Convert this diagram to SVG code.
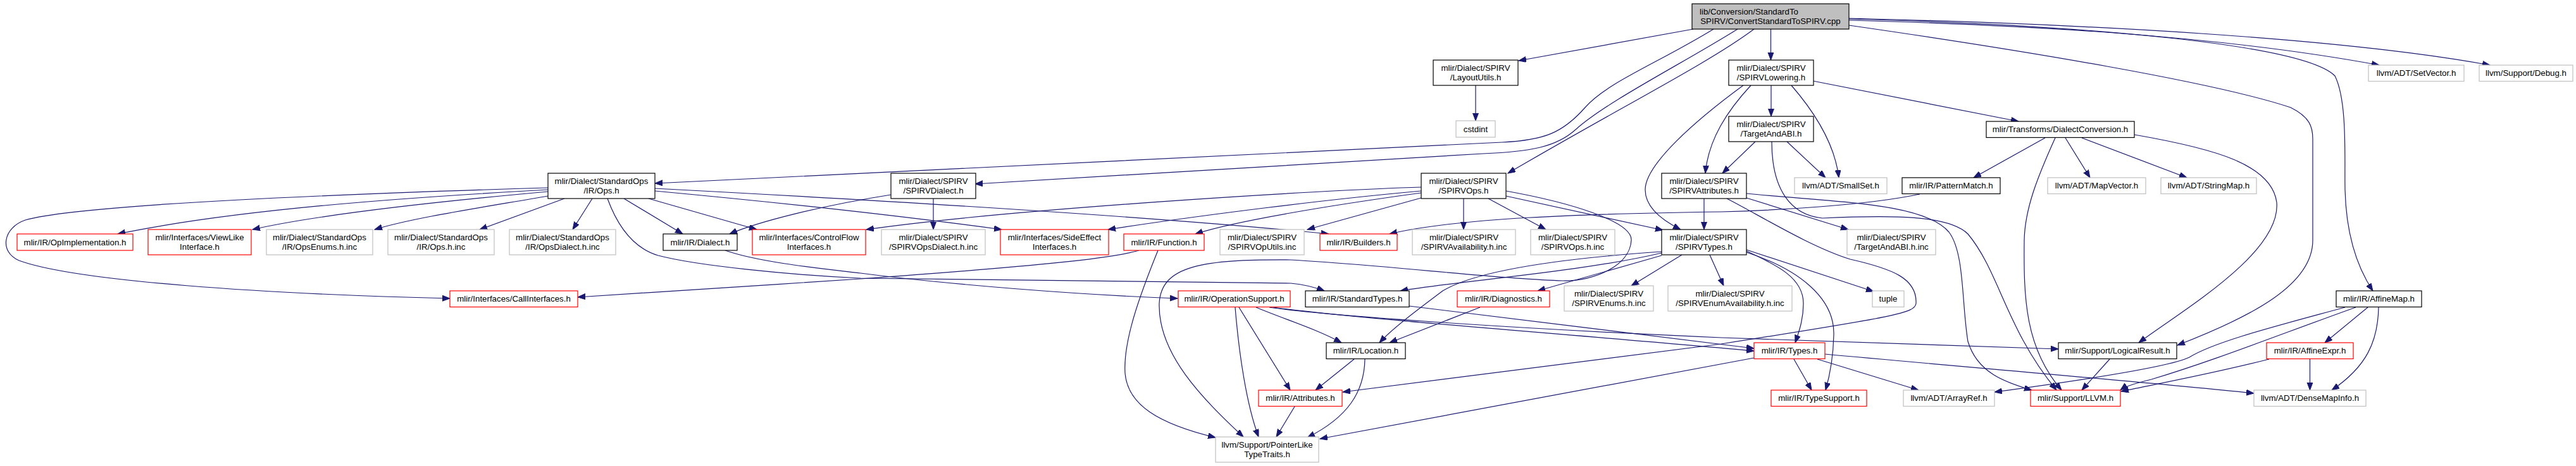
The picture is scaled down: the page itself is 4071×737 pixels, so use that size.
<svg xmlns="http://www.w3.org/2000/svg" width="4071" height="737" viewBox="0 0 4071 737">
<style>
.node rect{fill:#ffffff;stroke:#000000;stroke-width:1.2}
.node.m rect{fill:#bfbfbf}
.node.g rect{stroke:#bfbfbf}
.node.r rect{stroke:#ff0000}
.node text{font-family:"Liberation Sans",Arial,Helvetica,sans-serif;font-size:13.3px;fill:#000000;text-anchor:middle}
#edges path{fill:none;stroke:#191970;stroke-width:1.2;marker-end:url(#a)}
</style>
<defs>
<marker id="a" markerWidth="14" markerHeight="10" refX="12" refY="4.5" orient="auto" markerUnits="userSpaceOnUse"><path d="M0,0 L12,4.5 L0,9 z" fill="#191970" stroke="#191970" stroke-width="1"/></marker>
</defs>
<rect width="4071" height="737" fill="#ffffff"/>
<g id="edges">
<path d="M2676,46 L2400,96"/>
<path d="M2798.5,46 L2798.5,95"/>
<path d="M2708,46 C2620,100 2540,130 2505,170 C2470,210 2440,222 2374,225 L1035,290"/>
<path d="M2746,46 C2660,100 2540,160 2490,205 C2460,232 2420,240 2344,243 L1541,291"/>
<path d="M2772,46 C2700,100 2560,170 2383,274"/>
<path d="M2922,32 C3200,40 3500,55 3760,103"/>
<path d="M2922,29 C3300,38 3700,60 3935,103"/>
<path d="M2922,30 C3300,40 3640,70 3690,120 C3710,160 3705,250 3706,300 C3708,380 3730,430 3750,460"/>
<path d="M2922,40 C3200,80 3500,130 3620,170 C3650,185 3655,200 3655,220 L3655,380 C3655,450 3560,500 3441,546"/>
<path d="M2332,135 L2332,191"/>
<path d="M2799,135 L2799,184"/>
<path d="M2865,128 L3190,192"/>
<path d="M2831,135 C2870,180 2900,230 2906,281"/>
<path d="M2767,135 C2730,175 2700,220 2695,274"/>
<path d="M2755,135 C2680,190 2600,260 2600,300 C2600,330 2630,350 2656,363"/>
<path d="M2824,224 L2885,281"/>
<path d="M2774,224 L2722,274"/>
<path d="M2800,224 C2800,300 2830,340 2880,345 C2990,340 3080,340 3110,370 C3160,430 3170,520 3250,617"/>
<path d="M3232,218 L3119,281"/>
<path d="M3264,218 L3303,281"/>
<path d="M3290,218 L3456,281"/>
<path d="M3248,218 C3220,280 3200,330 3199,380 C3198,470 3200,550 3258,617"/>
<path d="M3373,213 C3500,235 3590,260 3598,320 C3605,400 3450,490 3380,542"/>
<path d="M3034,307 C2950,325 2800,333 2720,335 C2500,338 2300,345 2196,370"/>
<path d="M866,300 C650,312 380,330 186,370"/>
<path d="M866,297 C500,308 120,325 40,348 C5,360 -2,398 30,412 C120,445 420,465 711,472"/>
<path d="M866,303 C700,318 500,340 399,363"/>
<path d="M866,310 C750,330 650,345 592,363"/>
<path d="M892,314 L758,363"/>
<path d="M936,314 L905,363"/>
<path d="M986,314 L1079,370"/>
<path d="M1025,314 L1196,363"/>
<path d="M1035,298 C1300,312 1800,340 2100,370"/>
<path d="M1035,302 C1250,322 1450,345 1583,363"/>
<path d="M960,314 C975,355 1000,392 1040,404 C1100,420 1250,435 1360,440 L2040,448 C2060,450 2080,455 2093,460"/>
<path d="M1408,308 C1300,325 1200,350 1153,370"/>
<path d="M1475,314 L1475,363"/>
<path d="M2246,296 C2100,300 1600,330 1369,363"/>
<path d="M2246,302 C2100,315 1900,340 1751,363"/>
<path d="M2246,305 C2100,325 1950,350 1889,370"/>
<path d="M2246,313 L2066,363"/>
<path d="M2313,314 L2313,363"/>
<path d="M2352,314 L2443,363"/>
<path d="M2380,310 L2628,364"/>
<path d="M2380,302 C2480,320 2580,350 2578,380 C2576,420 2520,445 2470,444 C2350,440 2200,420 2040,411 C1900,410 1835,420 1832,480 C1830,560 1900,630 1965,691"/>
<path d="M2693,314 L2693,363"/>
<path d="M2760,313 L2921,363"/>
<path d="M2760,306 C2900,320 3040,320 3080,367 C3105,400 3100,480 3110,540 C3125,590 3170,605 3211,617"/>
<path d="M2729,314 C2780,340 2860,390 2924,410 C2990,425 3030,440 3028,480 C3026,495 3000,500 2720,544 L2122,620"/>
<path d="M2658,403 L2578,452"/>
<path d="M2702,403 L2724,452"/>
<path d="M2760,395 L2961,461"/>
<path d="M2760,397 C2810,420 2850,440 2850,480 C2850,505 2843,525 2837,542"/>
<path d="M2760,399 C2840,425 2900,470 2898,530 C2897,570 2890,600 2885,617"/>
<path d="M2626,400 C2500,430 2300,445 2213,460"/>
<path d="M2626,404 L2430,460"/>
<path d="M2626,398 C2450,410 2330,430 2280,460 C2240,490 2200,520 2180,542"/>
<path d="M1146,396 C1200,415 1300,425 1360,432 C1500,450 1700,466 1861,472"/>
<path d="M1800,396 C1760,408 1650,420 1360,441 C1200,452 1000,463 913,470"/>
<path d="M1830,396 C1800,470 1775,540 1778,590 C1782,640 1830,670 1921,692"/>
<path d="M1952,486 C1958,560 1970,640 1989,691"/>
<path d="M1958,486 L2039,617"/>
<path d="M1985,486 C2030,505 2080,520 2120,542"/>
<path d="M2006,486 C2100,500 2400,520 2720,534 L3253,552"/>
<path d="M2012,486 C2150,505 2500,530 2772,555"/>
<path d="M2227,484 C2400,505 2600,530 2772,551"/>
<path d="M2339,486 L2196,542"/>
<path d="M2140,568 L2079,617"/>
<path d="M2157,568 C2156,620 2130,660 2066,692"/>
<path d="M2046,643 L2017,691"/>
<path d="M2835,568 L2863,617"/>
<path d="M2872,568 L3032,617"/>
<path d="M2884,560 C3100,580 3400,605 3562,622"/>
<path d="M2772,566 L2086,694"/>
<path d="M3334,568 L3290,617"/>
<path d="M3742,486 L3674,542"/>
<path d="M3759,486 C3758,540 3740,580 3685,617"/>
<path d="M3723,486 C3600,530 3500,570 3400,600 C3380,605 3360,610 3351,617"/>
<path d="M3706,486 C3600,515 3500,540 3460,565 C3430,580 3300,600 3152,620"/>
<path d="M3650.5,568 L3650.5,617"/>
<path d="M3586,568 C3500,590 3420,605 3352,619"/>
</g>
<g id="n_main" class="node m"><rect x="2674" y="6" width="248" height="40"/><text x="2686" y="22.5" style="text-anchor:start">lib/Conversion/StandardTo</text><text x="2798" y="37.5">SPIRV/ConvertStandardToSPIRV.cpp</text></g>
<g id="n_layoututils" class="node"><rect x="2265" y="95" width="134" height="40"/><text x="2332" y="111.5">mlir/Dialect/SPIRV</text><text x="2332" y="126.5">/LayoutUtils.h</text></g>
<g id="n_cstdint" class="node g"><rect x="2301" y="191" width="62" height="26"/><text x="2332" y="208.5">cstdint</text></g>
<g id="n_spirvlowering" class="node"><rect x="2732" y="95" width="134" height="40"/><text x="2799" y="111.5">mlir/Dialect/SPIRV</text><text x="2799" y="126.5">/SPIRVLowering.h</text></g>
<g id="n_targetandabi" class="node"><rect x="2732" y="184" width="134" height="40"/><text x="2799" y="200.5">mlir/Dialect/SPIRV</text><text x="2799" y="215.5">/TargetAndABI.h</text></g>
<g id="n_dialectconversion" class="node"><rect x="3139" y="192" width="234" height="25.5"/><text x="3256" y="209">mlir/Transforms/DialectConversion.h</text></g>
<g id="n_smallset" class="node g"><rect x="2836" y="281" width="146" height="25.5"/><text x="2909" y="298">llvm/ADT/SmallSet.h</text></g>
<g id="n_patternmatch" class="node"><rect x="3006" y="281" width="155" height="25.5"/><text x="3083.5" y="298">mlir/IR/PatternMatch.h</text></g>
<g id="n_mapvector" class="node g"><rect x="3236" y="281" width="155" height="25.5"/><text x="3313.5" y="298">llvm/ADT/MapVector.h</text></g>
<g id="n_stringmap" class="node g"><rect x="3415" y="281" width="151" height="25.5"/><text x="3490.5" y="298">llvm/ADT/StringMap.h</text></g>
<g id="n_setvector" class="node g"><rect x="3743" y="103" width="151" height="25.5"/><text x="3818.5" y="120">llvm/ADT/SetVector.h</text></g>
<g id="n_debug" class="node g"><rect x="3918" y="103" width="148" height="25.5"/><text x="3992" y="120">llvm/Support/Debug.h</text></g>
<g id="n_stdops" class="node"><rect x="866" y="274" width="169" height="40"/><text x="950.5" y="290.5">mlir/Dialect/StandardOps</text><text x="950.5" y="305.5">/IR/Ops.h</text></g>
<g id="n_spirvdialect" class="node"><rect x="1408" y="274" width="134" height="40"/><text x="1475" y="290.5">mlir/Dialect/SPIRV</text><text x="1475" y="305.5">/SPIRVDialect.h</text></g>
<g id="n_spirvops" class="node"><rect x="2246" y="274" width="134" height="40"/><text x="2313" y="290.5">mlir/Dialect/SPIRV</text><text x="2313" y="305.5">/SPIRVOps.h</text></g>
<g id="n_spirvattributes" class="node"><rect x="2626" y="274" width="134" height="40"/><text x="2693" y="290.5">mlir/Dialect/SPIRV</text><text x="2693" y="305.5">/SPIRVAttributes.h</text></g>
<g id="n_opimplementation" class="node r"><rect x="27" y="370" width="183" height="26"/><text x="118.5" y="387.5">mlir/IR/OpImplementation.h</text></g>
<g id="n_viewlike" class="node r"><rect x="234" y="363" width="163" height="40"/><text x="315.5" y="379.5">mlir/Interfaces/ViewLike</text><text x="315.5" y="394.5">Interface.h</text></g>
<g id="n_opsenums" class="node g"><rect x="421" y="363" width="168" height="40"/><text x="505" y="379.5">mlir/Dialect/StandardOps</text><text x="505" y="394.5">/IR/OpsEnums.h.inc</text></g>
<g id="n_opshinc" class="node g"><rect x="613" y="363" width="168" height="40"/><text x="697" y="379.5">mlir/Dialect/StandardOps</text><text x="697" y="394.5">/IR/Ops.h.inc</text></g>
<g id="n_opsdialectinc" class="node g"><rect x="805" y="363" width="168" height="40"/><text x="889" y="379.5">mlir/Dialect/StandardOps</text><text x="889" y="394.5">/IR/OpsDialect.h.inc</text></g>
<g id="n_dialect" class="node"><rect x="1048" y="370" width="117" height="26"/><text x="1106.5" y="387.5">mlir/IR/Dialect.h</text></g>
<g id="n_controlflow" class="node r"><rect x="1189" y="363" width="179" height="40"/><text x="1278.5" y="379.5">mlir/Interfaces/ControlFlow</text><text x="1278.5" y="394.5">Interfaces.h</text></g>
<g id="n_spirvopsdialectinc" class="node g"><rect x="1393" y="363" width="164" height="40"/><text x="1475" y="379.5">mlir/Dialect/SPIRV</text><text x="1475" y="394.5">/SPIRVOpsDialect.h.inc</text></g>
<g id="n_sideeffect" class="node r"><rect x="1581" y="363" width="171" height="40"/><text x="1666.5" y="379.5">mlir/Interfaces/SideEffect</text><text x="1666.5" y="394.5">Interfaces.h</text></g>
<g id="n_function" class="node r"><rect x="1776" y="370" width="127" height="26"/><text x="1839.5" y="387.5">mlir/IR/Function.h</text></g>
<g id="n_spirvoputils" class="node g"><rect x="1928" y="363" width="133" height="40"/><text x="1994.5" y="379.5">mlir/Dialect/SPIRV</text><text x="1994.5" y="394.5">/SPIRVOpUtils.inc</text></g>
<g id="n_builders" class="node r"><rect x="2086" y="370" width="122" height="26"/><text x="2147" y="387.5">mlir/IR/Builders.h</text></g>
<g id="n_spirvavail" class="node g"><rect x="2232" y="363" width="163" height="40"/><text x="2313.5" y="379.5">mlir/Dialect/SPIRV</text><text x="2313.5" y="394.5">/SPIRVAvailability.h.inc</text></g>
<g id="n_spirvopsinc" class="node g"><rect x="2419" y="363" width="133" height="40"/><text x="2485.5" y="379.5">mlir/Dialect/SPIRV</text><text x="2485.5" y="394.5">/SPIRVOps.h.inc</text></g>
<g id="n_spirvtypes" class="node"><rect x="2626" y="363" width="134" height="40"/><text x="2693" y="379.5">mlir/Dialect/SPIRV</text><text x="2693" y="394.5">/SPIRVTypes.h</text></g>
<g id="n_targetabiinc" class="node g"><rect x="2919" y="363" width="140" height="40"/><text x="2989" y="379.5">mlir/Dialect/SPIRV</text><text x="2989" y="394.5">/TargetAndABI.h.inc</text></g>
<g id="n_callinterfaces" class="node r"><rect x="711" y="460" width="202" height="25.5"/><text x="812" y="477">mlir/Interfaces/CallInterfaces.h</text></g>
<g id="n_operationsupport" class="node r"><rect x="1862" y="460" width="177" height="25.5"/><text x="1950.5" y="477">mlir/IR/OperationSupport.h</text></g>
<g id="n_standardtypes" class="node"><rect x="2063" y="460" width="164" height="25.5"/><text x="2145" y="477">mlir/IR/StandardTypes.h</text></g>
<g id="n_diagnostics" class="node r"><rect x="2303" y="460" width="146" height="25.5"/><text x="2376" y="477">mlir/IR/Diagnostics.h</text></g>
<g id="n_spirvenumsinc" class="node g"><rect x="2472" y="452" width="141" height="40"/><text x="2542.5" y="468.5">mlir/Dialect/SPIRV</text><text x="2542.5" y="483.5">/SPIRVEnums.h.inc</text></g>
<g id="n_spirvenumavail" class="node g"><rect x="2636" y="452" width="196" height="40"/><text x="2734" y="468.5">mlir/Dialect/SPIRV</text><text x="2734" y="483.5">/SPIRVEnumAvailability.h.inc</text></g>
<g id="n_tuple" class="node g"><rect x="2959" y="460" width="50" height="25.5"/><text x="2984" y="477">tuple</text></g>
<g id="n_affinemap" class="node"><rect x="3692" y="460" width="135" height="25.5"/><text x="3759.5" y="477">mlir/IR/AffineMap.h</text></g>
<g id="n_location" class="node"><rect x="2096" y="542" width="125" height="25.5"/><text x="2158.5" y="559">mlir/IR/Location.h</text></g>
<g id="n_types" class="node r"><rect x="2772" y="542" width="112" height="25.5"/><text x="2828" y="559">mlir/IR/Types.h</text></g>
<g id="n_logicalresult" class="node"><rect x="3253" y="542" width="187" height="25.5"/><text x="3346.5" y="559">mlir/Support/LogicalResult.h</text></g>
<g id="n_affineexpr" class="node r"><rect x="3582" y="542" width="137" height="25.5"/><text x="3650.5" y="559">mlir/IR/AffineExpr.h</text></g>
<g id="n_attributes" class="node r"><rect x="1989" y="617" width="132" height="25.5"/><text x="2055" y="634">mlir/IR/Attributes.h</text></g>
<g id="n_typesupport" class="node r"><rect x="2799" y="617" width="151" height="25.5"/><text x="2874.5" y="634">mlir/IR/TypeSupport.h</text></g>
<g id="n_arrayref" class="node g"><rect x="3008" y="617" width="144" height="25.5"/><text x="3080" y="634">llvm/ADT/ArrayRef.h</text></g>
<g id="n_llvm" class="node r"><rect x="3209" y="617" width="142" height="25.5"/><text x="3280" y="634">mlir/Support/LLVM.h</text></g>
<g id="n_densemapinfo" class="node g"><rect x="3562" y="617" width="177" height="25.5"/><text x="3650.5" y="634">llvm/ADT/DenseMapInfo.h</text></g>
<g id="n_pointerlike" class="node g"><rect x="1921" y="691" width="163" height="40"/><text x="2002.5" y="707.5">llvm/Support/PointerLike</text><text x="2002.5" y="722.5">TypeTraits.h</text></g>
</svg>
